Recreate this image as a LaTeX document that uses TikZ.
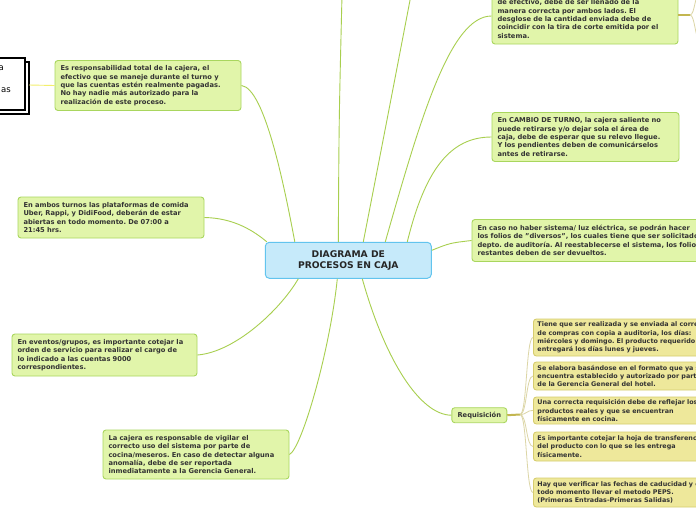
\documentclass[tikz,border=0pt]{standalone}
\usepackage{fontspec}
\setmainfont{DejaVu Sans}
\frenchspacing
\definecolor{gruenfill}{HTML}{E1F5AA}
\definecolor{gruenrand}{HTML}{A9D65E}
\definecolor{gruenlinie}{HTML}{A8CF4F}
\definecolor{gelbfill}{HTML}{EEE89B}
\definecolor{gelbrand}{HTML}{D6CC6E}
\definecolor{gelblinie}{HTML}{DCD6A6}
\definecolor{oliv}{HTML}{C3B650}
\definecolor{blaufill}{HTML}{C6EAFA}
\definecolor{blaurand}{HTML}{62C4EE}
\definecolor{schrift}{HTML}{333333}
\tikzset{
 notiz/.style={draw=gruenrand, fill=gruenfill, line width=0.9pt, rounded corners=3pt, text=schrift,
  font=\bfseries\fontsize{6.7}{8.33}\selectfont, align=left, inner xsep=5.5pt, inner ysep=2pt},
 gelbnotiz/.style={notiz, draw=gelbrand, fill=gelbfill, inner xsep=4pt, font=\bfseries\fontsize{6.4}{8.33}\selectfont},
 ast/.style={draw=gruenlinie, line width=0.9pt},
 faecher/.style={draw=gelblinie, line width=0.8pt},
}
\begin{document}
\begin{tikzpicture}[x=1pt, y=-1pt]
\useasboundingbox (0,0) rectangle (696,520);
\fill[white] (0,0) rectangle (696,520);
\clip (0,0) rectangle (696,520);
% Kasten links oben, abgeschnitten
\draw[line width=1.6pt, fill=white] (-70,62) rectangle (29,114);
\draw[line width=1.6pt, fill=white] (-70,58) rectangle (25,110);
\node[anchor=east, inner sep=0pt, font=\fontsize{8.5}{10}\selectfont] (rest1) at (4,68) {a};
\node[anchor=east, inner sep=0pt, font=\fontsize{8.5}{10}\selectfont] (rest2) at (11,90) {as};
\coordinate (schwarz) at (29,85);
% Hauptknoten
\node[draw=blaurand, fill=blaufill, line width=1pt, rounded corners=4pt, minimum width=166pt, minimum height=36pt,
 align=center, font=\bfseries\fontsize{9.2}{11}\selectfont, text=black!85] (dia) at (348.3,260.3) {DIAGRAMA DE\\PROCESOS EN CAJA};
% Notizen links
\node[notiz, text width=175pt, minimum height=50pt] (verantw) at (148,85.5) {Es responsabilidad total de la cajera, el\\efectivo que se maneje durante el turno y\\que las cuentas estén realmente pagadas.\\No hay nadie más autorizado para la\\realización de este proceso.};
\node[notiz, text width=175pt, minimum height=41pt] (kanaele) at (111,217.5) {En ambos turnos las plataformas de comida\\Uber, Rappi, y DidiFood, deberán de estar\\abiertas en todo momento. De 07:00 a\\21:45 hrs.};
\node[notiz, text width=174pt, minimum height=42pt] (events) at (104.5,355) {En eventos/grupos, es importante cotejar la\\orden de servicio para realizar el cargo de\\lo indicado a las cuentas 9000\\correspondientes.};
\node[notiz, text width=175pt, minimum height=49pt] (kueche) at (196,454.5) {La cajera es responsable de vigilar el\\correcto uso del sistema por parte de\\cocina/meseros. En caso de detectar alguna\\anomalía, debe de ser reportada\\inmediatamente a la Gerencia General.};
% Notizen rechts
\node[notiz, text width=175pt, minimum height=50pt] (bargeld) at (585,19) {de efectivo, debe de ser llenado de la\\manera correcta por ambos lados. El\\desglose de la cantidad enviada debe de\\coincidir con la tira de corte emitida por el\\sistema.};
\node[notiz, text width=176pt, minimum height=49pt] (wechsel) at (585.5,137) {En CAMBIO DE TURNO, la cajera saliente no\\puede retirarse y/o dejar sola el área de\\caja, debe de esperar que su relevo llegue.\\Y los pendientes deben de comunicárselos\\antes de retirarse.};
\node[notiz, text width=229pt, minimum height=42pt] (strom) at (592,240.5) {En caso no haber sistema/ luz eléctrica, se podrán hacer\\los folios de "diversos", los cuales tiene que ser solicitados\\depto. de auditoría. Al reestablecerse el sistema, los folios\\restantes deben de ser devueltos.};
\node[notiz, minimum width=55pt, minimum height=15pt, inner sep=1pt] (req) at (479.3,415.2) {Requisición};
% Requisicion: gelbe Notizen
\node[gelbnotiz, text width=184pt, minimum height=37pt, anchor=west] (y1) at (533,337.5) {Tiene que ser realizada y se enviada al correo\\de compras con copia a auditoria, los días:\\miércoles y domingo. El producto requerido se\\entregará los días lunes y jueves.};
\node[gelbnotiz, text width=184pt, minimum height=28pt, anchor=west] (y2) at (533,376) {Se elabora basándose en el formato que ya se\\encuentra establecido y autorizado por parte\\de la Gerencia General del hotel.};
\node[gelbnotiz, text width=184pt, minimum height=27pt, anchor=west] (y3) at (533,410.5) {Una correcta requisición debe de reflejar los\\productos reales y que se encuentran\\físicamente en cocina.};
\node[gelbnotiz, text width=184pt, minimum height=29pt, anchor=west] (y4) at (533,446.5) {Es importante cotejar la hoja de transferencia\\del producto con lo que se les entrega\\físicamente.};
\node[gelbnotiz, text width=184pt, minimum height=29pt, anchor=west] (y5) at (533,492.5) {Hay que verificar las fechas de caducidad y en\\todo momento llevar el metodo PEPS.\\(Primeras Entradas-Primeras Salidas)};
% Verbindungen
\coordinate (oben1) at (342,-5); \coordinate (oben2) at (411,-5);
\draw[ast] ([xshift=-10pt]dia.north) .. controls (339,120) .. (oben1);
\draw[ast] ([xshift=15pt]dia.north) .. controls (387,120) .. (oben2);
\draw[ast] ([xshift=37pt]dia.north) .. controls (420,120) and (450,16) .. ([yshift=3pt]bargeld.west);
\draw[ast] ([xshift=59pt]dia.north) .. controls (425,170) and (450,137) .. (wechsel.west);
\draw[ast] ([yshift=10pt]dia.east) .. controls (450,243) .. (strom.west);
\draw[ast] (verantw.east) .. controls (265,88) and (285,190) .. ([xshift=30pt]dia.north west);
\draw[ast] (kanaele.east) .. controls (235,218) and (255,232) .. ([xshift=2pt]dia.north west);
\draw[ast] ([xshift=-50pt]dia.south) .. controls (280,310) and (235,352) .. (events.east);
\draw[ast] ([xshift=-11pt]dia.south) .. controls (330,350) and (302,448) .. (kueche.east);
\draw[ast] ([xshift=14pt]dia.south) .. controls (385,360) and (420,415) .. (req.west);
\draw[draw=gelbfill!70!yellow, line width=0.9pt] (schwarz) -- (verantw.west);
% Faecher
\coordinate (fan) at (520,414.5);
\draw[oliv, line width=2pt] (req.east) -- (fan);
\foreach \z in {y1,y2,y3,y4,y5}{\draw[faecher] (fan) .. controls +(7,0) and +(-7,0) .. (\z.west);}
\coordinate (bfan) at (690,15); \coordinate (bfan1) at (700,-8); \coordinate (bfan2) at (700,40);
\draw[oliv, line width=2pt] ([yshift=4pt]bargeld.east) -- (bfan);
\draw[faecher] (bfan) .. controls +(5,0) and +(-5,0) .. (bfan1);
\draw[faecher] (bfan) .. controls +(5,0) and +(-5,0) .. (bfan2);
\end{tikzpicture}
\end{document}
